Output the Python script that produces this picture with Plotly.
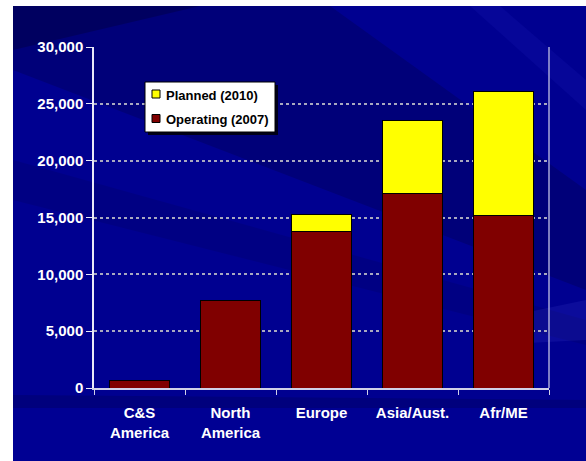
import plotly.graph_objects as go

categories = ["C&S<br>America", "North<br>America", "Europe", "Asia/Aust.", "Afr/ME"]
operating_2007 = [700, 7700, 13800, 17100, 15150]
planned_2010 = [0, 0, 1500, 6400, 10900]
y_ticks = [0, 5000, 10000, 15000, 20000, 25000, 30000]
series_names = ["Planned (2010)", "Operating (2007)"]
series_colors = ["#FFFF00", "#800000"]

W, H = 586, 461
ML, MR, MT, MB = 94, 37, 47, 73
PW, PH = W - ML - MR, H - MT - MB


def px(x):
    return (x - ML) / PW


def py(y):
    return (H - MB - y) / PH


fig = go.Figure()
fig.add_trace(go.Bar(
    x=categories, y=operating_2007, name=series_names[1],
    marker=dict(color=series_colors[1], line=dict(color="#000000", width=1)),
    showlegend=False,
))
fig.add_trace(go.Bar(
    x=categories, y=planned_2010, name=series_names[0],
    marker=dict(color=series_colors[0], line=dict(color="#000000", width=1)),
    showlegend=False,
))

shapes = []
annotations = []
# blue background
shapes.append(dict(type="rect", xref="paper", yref="paper", layer="below",
                   x0=px(13), x1=px(W + 2), y0=py(H + 2), y1=py(6),
                   fillcolor="#000090", line=dict(width=0)))


def poly(points, color):
    d = "M " + " L ".join(f"{px(a):.4f},{py(b):.4f}" for a, b in points) + " Z"
    shapes.append(dict(type="path", xref="paper", yref="paper", layer="below",
                       path=d, fillcolor=color, line=dict(width=0)))


# subtle diagonal streaks
poly([(13, 6), (330, 6), (586, 190), (586, 290), (13, 70)], "rgba(0,0,60,0.28)")
poly([(13, 6), (200, 6), (13, 50)], "rgba(0,0,40,0.30)")
poly([(13, 160), (586, 320), (586, 345), (13, 200)], "rgba(0,0,60,0.15)")
poly([(13, 395), (586, 400), (586, 408), (13, 408)], "rgba(0,0,50,0.20)")
poly([(470, 6), (500, 6), (586, 80), (586, 110)], "rgba(40,40,200,0.15)")
poly([(490, 320), (586, 300), (586, 340), (490, 345)], "rgba(80,80,220,0.15)")
poly([(13, 408), (586, 408), (586, 461), (13, 461)], "rgba(0,0,170,0.12)")
# right border of plot
shapes.append(dict(type="line", xref="paper", yref="paper",
                   x0=1, x1=1, y0=0, y1=1,
                   line=dict(color="#a8a8d8", width=1.5)))

# custom legend: shadow, box, symbols, labels
shapes.append(dict(type="rect", xref="paper", yref="paper", layer="above",
                   x0=px(148), x1=px(278), y0=py(135), y1=py(85),
                   fillcolor="#000018", line=dict(width=0)))
shapes.append(dict(type="rect", xref="paper", yref="paper", layer="above",
                   x0=px(145), x1=px(275), y0=py(132), y1=py(82),
                   fillcolor="#ffffff", line=dict(color="#000000", width=1)))
for i, (name, color) in enumerate(zip(series_names, series_colors)):
    yc = 94 + i * 24.5
    shapes.append(dict(type="rect", xref="paper", yref="paper", layer="above",
                       x0=px(152), x1=px(160), y0=py(yc + 4), y1=py(yc - 4),
                       fillcolor=color, line=dict(color="#000000", width=1)))
    annotations.append(dict(xref="paper", yref="paper", x=px(164), y=py(yc + 1),
                            xanchor="left", yanchor="middle", showarrow=False,
                            text=name,
                            font=dict(size=13, color="#000000", weight="bold")))

fig.update_layout(
    width=W, height=H,
    margin=dict(l=ML, r=MR, t=MT, b=MB),
    paper_bgcolor="#ffffff",
    plot_bgcolor="rgba(0,0,0,0)",
    barmode="stack",
    bargap=0.34,
    font=dict(family="Arial, Liberation Sans", size=15, color="#ffffff", weight="bold"),
    showlegend=False,
    shapes=shapes,
    annotations=annotations,
)
fig.update_xaxes(
    showgrid=False, showline=True, linecolor="#d0d0e8", linewidth=2,
    ticks="outside", tickson="boundaries", ticklen=5, tickcolor="#d0d0e8",
    tickfont=dict(size=15, color="#ffffff", weight="bold"),
    ticklabelstandoff=10,
)
fig.update_yaxes(
    range=[0, 30000], tickvals=y_ticks, tickformat=",d",
    showgrid=True, gridcolor="#a8a8c0", gridwidth=2, griddash="dot",
    showline=True, linecolor="#e8e8f8", linewidth=1.5,
    ticks="outside", ticklen=6, tickcolor="#e8e8f8",
    tickfont=dict(size=15, color="#ffffff", weight="bold"),
    zeroline=False,
)

fig.write_html("out.html")
